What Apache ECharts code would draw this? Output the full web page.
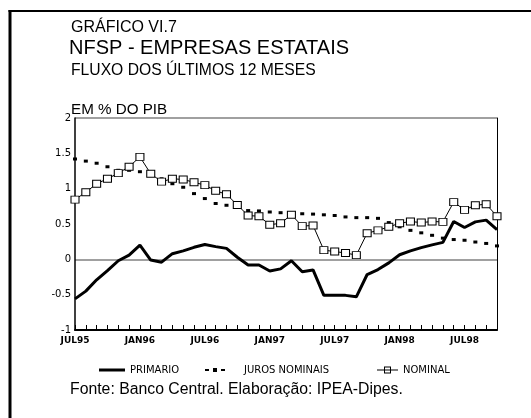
<!DOCTYPE html>
<html>
<head>
<meta charset="utf-8">
<script src="https://cdn.jsdelivr.net/npm/echarts@6/dist/echarts.min.js"></script>
<style>
html,body{margin:0;padding:0;background:#fff;}
#chart{width:531px;height:418px;}
</style>
</head>
<body>
<div id="chart"></div>
<script>
const months = ['JUL95','AGO95','SET95','OUT95','NOV95','DEZ95',
  'JAN96','FEV96','MAR96','ABR96','MAI96','JUN96','JUL96','AGO96','SET96','OUT96','NOV96','DEZ96',
  'JAN97','FEV97','MAR97','ABR97','MAI97','JUN97','JUL97','AGO97','SET97','OUT97','NOV97','DEZ97',
  'JAN98','FEV98','MAR98','ABR98','MAI98','JUN98','JUL98','AGO98','SET98','OUT98'];

const primario = [-0.56,-0.45,-0.29,-0.16,-0.02,0.06,0.20,-0.01,-0.04,0.08,
  0.12,0.17,0.21,0.18,0.155,0.03,-0.08,-0.08,-0.165,-0.135,
  -0.02,-0.175,-0.15,-0.51,-0.51,-0.51,-0.53,-0.215,-0.145,-0.05,
  0.065,0.12,0.165,0.205,0.24,0.535,0.45,0.53,0.555,0.42];

const juros = [1.42,1.39,1.36,1.31,1.26,1.26,1.24,1.22,1.14,1.07,
  1.02,0.93,0.86,0.79,0.765,0.76,0.69,0.685,0.67,0.66,
  0.65,0.645,0.64,0.63,0.62,0.60,0.59,0.59,0.58,0.52,
  0.46,0.41,0.375,0.34,0.30,0.28,0.27,0.245,0.225,0.19];

const nominal = [0.845,0.95,1.07,1.14,1.22,1.31,1.45,1.21,1.10,1.14,
  1.13,1.09,1.05,0.97,0.92,0.77,0.62,0.61,0.49,0.51,
  0.63,0.47,0.48,0.13,0.11,0.09,0.06,0.37,0.41,0.46,
  0.51,0.535,0.52,0.535,0.53,0.81,0.70,0.765,0.78,0.61];

const seriesNames = ['PRIMARIO','JUROS NOMINAIS','NOMINAL'];

const chart = echarts.init(document.getElementById('chart'), null, {renderer:'canvas'});
const titleFont = 'Liberation Sans, Arial, sans-serif';
const labelFont = 'DejaVu Sans, sans-serif';
const legendItemStyle = {color:'#000', borderWidth:0, borderColor:'transparent'};

const option = {
  animation: false,
  backgroundColor: '#fff',
  title: [
    {text:'GRÁFICO VI.7', left:71, top:19.5, padding:0, textStyle:{fontFamily:titleFont, fontSize:16, fontWeight:'normal', color:'#000'}},
    {text:'NFSP - EMPRESAS ESTATAIS', left:69, top:38.5, padding:0, textStyle:{fontFamily:titleFont, fontSize:20, fontWeight:'normal', color:'#000'}},
    {text:'FLUXO DOS ÚLTIMOS 12 MESES', left:71, top:62.5, padding:0, textStyle:{fontFamily:titleFont, fontSize:15.7, fontWeight:'normal', color:'#000'}},
    {text:'EM % DO PIB', left:71, top:102.5, padding:0, textStyle:{fontFamily:titleFont, fontSize:15.2, fontWeight:'normal', color:'#000'}},
    {text:'Fonte: Banco Central. Elaboração: IPEA-Dipes.', left:70, top:381.5, padding:0, textStyle:{fontFamily:titleFont, fontSize:15.8, fontWeight:'normal', color:'#000'}}
  ],
  legend: [
    {data:[{name:seriesNames[0], icon:'path://M0,0h26v3h-26z'}], left:99, top:365, padding:0,
      itemWidth:26, itemHeight:3, itemStyle:legendItemStyle, lineStyle:{width:0},
      textStyle:{fontFamily:labelFont, fontSize:10, color:'#000'}},
    {data:[{name:seriesNames[1], icon:'path://M0,1h4v2h-4z M8,0h4v4h-4z M16,1h4v2h-4z'}], left:205, top:365, padding:0,
      itemWidth:20, itemHeight:4, itemStyle:legendItemStyle, lineStyle:{width:0},
      textStyle:{fontFamily:labelFont, fontSize:10, color:'#000', padding:[0,0,0,14]}},
    {data:[{name:seriesNames[2], icon:'path://M7,0h7v1h-7z M7,6h7v1h-7z M7,0h1v7h-1z M13,0h1v7h-1z M0,3h7v1h-7z M14,3h7v1h-7z M8,3h5v1h-5z'}], left:377, top:365, padding:0,
      itemWidth:21, itemHeight:7, itemStyle:legendItemStyle, lineStyle:{width:0},
      textStyle:{fontFamily:labelFont, fontSize:10, color:'#000'}}
  ],
  grid: {left:75, right:34, top:118, bottom:88, containLabel:false},
  xAxis: {
    type:'category', data:months, boundaryGap:false,
    axisLine:{show:true, onZero:false, lineStyle:{color:'#000', width:2}},
    axisTick:{show:true, inside:true, length:5, interval:0, lineStyle:{color:'#000', width:1}},
    axisLabel:{interval:5, margin:6, fontFamily:labelFont, fontWeight:'bold', fontSize:9, color:'#000'},
    splitLine:{show:false}
  },
  yAxis: [
    {type:'value', min:-1, max:2, interval:0.5,
      axisLine:{show:true, lineStyle:{color:'#000', width:1.5}},
      axisTick:{show:false},
      axisLabel:{margin:4, fontFamily:labelFont, fontSize:10, color:'#000'},
      splitLine:{show:true, lineStyle:{color:['transparent','transparent','#808080','transparent','transparent','transparent','#808080'], width:1.5}}
    },
    {type:'value', min:-1, max:2, interval:0.5, position:'right',
      axisLine:{show:true, lineStyle:{color:'#000', width:1}},
      axisTick:{show:false}, axisLabel:{show:false}, splitLine:{show:false}
    }
  ],
  series: [
    {name:seriesNames[1], type:'line', data:juros, symbol:'rect', symbolSize:[4,3], showSymbol:true,
      itemStyle:{color:'#000'}, lineStyle:{width:0, opacity:0}, z:2},
    {name:seriesNames[0], type:'line', data:primario, showSymbol:false, symbol:'none',
      lineStyle:{color:'#000', width:3}, itemStyle:{color:'#000'}, z:3},
    {name:seriesNames[2], type:'line', data:nominal, symbol:'rect', symbolSize:[8,7], showSymbol:true,
      lineStyle:{color:'#000', width:1}, itemStyle:{color:'#fff', borderColor:'#000', borderWidth:1}, z:4}
  ],
  graphic: [
    {type:'line', shape:{x1:10, y1:10, x2:10, y2:418}, style:{stroke:'#000', lineWidth:3}, silent:true},
    {type:'line', shape:{x1:8.5, y1:11, x2:531, y2:11}, style:{stroke:'#000', lineWidth:2}, silent:true}
  ]
};
chart.setOption(option);
</script>
</body>
</html>
